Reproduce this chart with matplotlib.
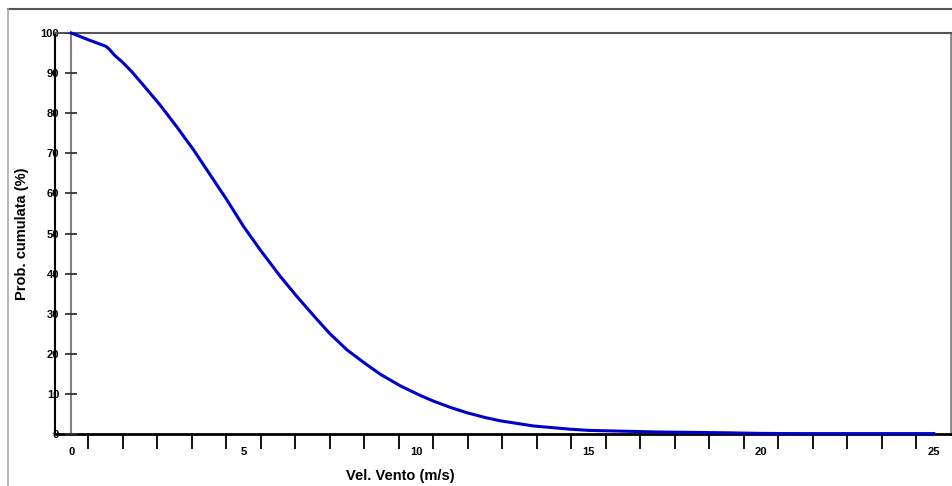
import matplotlib
matplotlib.use("Agg")
import matplotlib.pyplot as plt
from matplotlib.lines import Line2D

# wind speed (m/s) and cumulative probability (%)
speed = [0, 0.5, 1.0, 1.1, 1.25, 1.5, 1.76, 2.05, 2.58, 3.06, 3.55, 4.03, 4.51,
         5.0, 5.48, 6.06, 6.54, 7.12, 7.5, 7.99, 8.5, 8.96, 9.54, 10.12, 10.5,
         11.0, 11.47, 12.0, 12.43, 13.4, 14.46, 15.0, 16.0, 17.0, 18.0, 19.0,
         20, 21, 22, 23, 24, 25]
prob = [100, 98.3, 96.7, 96.0, 94.5, 92.6, 90.3, 87.4, 82.0, 76.6, 70.8, 64.6,
        58.4, 51.7, 45.9, 39.3, 34.3, 28.6, 25.0, 21.0, 17.7, 14.9, 12.0, 9.6,
        8.2, 6.6, 5.3, 4.1, 3.3, 2.0, 1.2, 0.9, 0.7, 0.5, 0.4, 0.3, 0.15, 0.1,
        0.1, 0.1, 0.1, 0.1]

x_labels = [0, 5, 10, 15, 20, 25]
y_ticks = [0, 10, 20, 30, 40, 50, 60, 70, 80, 90, 100]

plt.rcParams['font.family'] = ['Liberation Sans', 'DejaVu Sans']
plt.rcParams['font.weight'] = 'bold'

fig = plt.figure(figsize=(9.52, 4.86), dpi=100)
ax = fig.add_axes([55 / 952, 52 / 486, 896 / 952, 401 / 486])

# outer frame lines
fig.add_artist(Line2D([8 / 952, 1], [1 - 9 / 486, 1 - 9 / 486], color="#555555", lw=1.5))
fig.add_artist(Line2D([8 / 952, 8 / 952], [0, 1 - 9 / 486], color="#aaaaaa", lw=1.2))

ax.plot(speed, prob, color="#0000cc", lw=2.2, zorder=4, clip_on=False)

# vertical axis line at 0 with its little ticks
ax.axvline(0, color="#808080", lw=1.5, zorder=2)
ax.plot([0] * len(y_ticks), y_ticks, ls="none", marker="_", markersize=8,
        markeredgewidth=1.3, color="#333333", zorder=3)

ax.set_xlim(-0.47, 25.5)
ax.set_ylim(0, 100)

# x ticks between the integer labels
ax.set_xticks([i + 0.5 for i in range(25)])
ax.set_xticklabels([])
ax.tick_params(axis="x", which="major", direction="out", length=11, width=1.3, color="black")
ax.set_xticks(x_labels, minor=True)
ax.set_xticklabels([str(v) for v in x_labels], minor=True)
ax.tick_params(axis="x", which="minor", length=0, pad=9, labelsize=8)

ax.set_yticks(y_ticks)
ax.set_yticklabels([str(v) for v in y_ticks])
ax.tick_params(axis="y", length=0, pad=-3, labelsize=8)

ax.spines['left'].set_color("black")
ax.spines['left'].set_linewidth(1.5)
ax.spines['bottom'].set_color("black")
ax.spines['bottom'].set_linewidth(2)
ax.spines['top'].set_color("#555555")
ax.spines['top'].set_linewidth(1.5)
ax.spines['right'].set_color("#888888")
ax.spines['right'].set_linewidth(2)

ax.set_xlabel("Vel. Vento (m/s)", fontsize=10.5, fontweight="bold")
ax.xaxis.set_label_coords(0.385, -0.087)
ax.set_ylabel("Prob. cumulata (%)", fontsize=10.5, fontweight="bold")
ax.yaxis.set_label_coords(-0.029, 0.5)

fig.savefig("out.png", dpi=100)
